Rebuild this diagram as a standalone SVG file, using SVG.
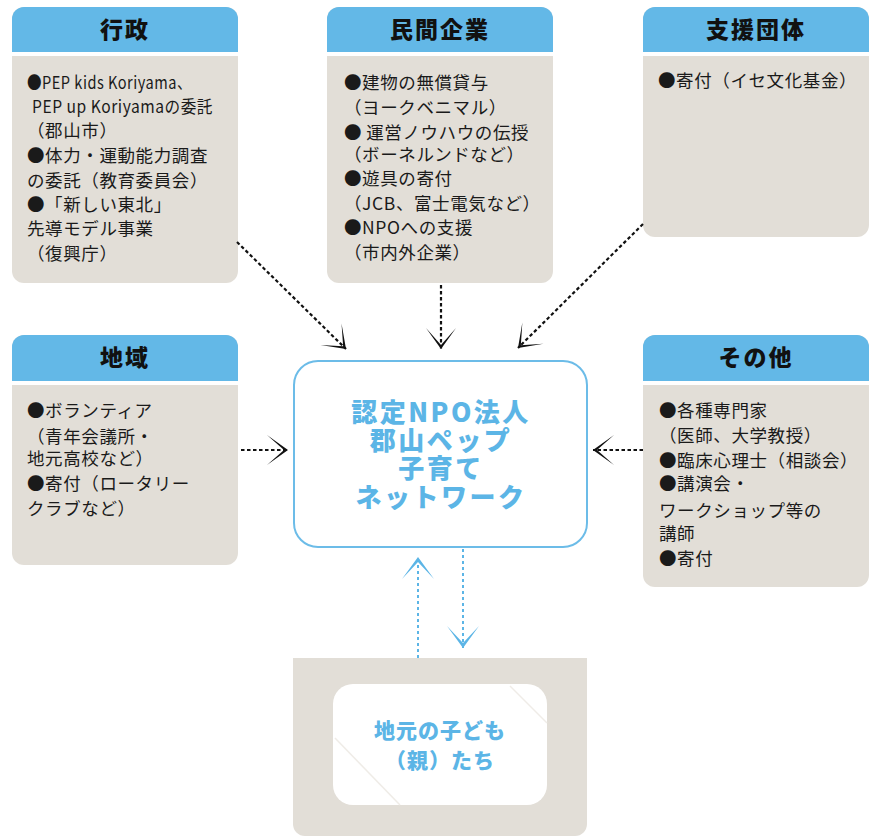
<svg xmlns="http://www.w3.org/2000/svg" width="875" height="837" viewBox="0 0 875 837">
<defs>
<style>
.body{fill:#e2ded7}
.head{fill:#63b8e7}
.sep{fill:#ffffff}
.ht{font-family:"Noto Sans CJK JP","Noto Sans",sans-serif;font-weight:900;font-size:23px;letter-spacing:2px;fill:#111;text-anchor:middle}
.t{font-family:"Noto Sans CJK JP","Noto Sans",sans-serif;font-size:17.5px;letter-spacing:0.6px;fill:#1a1a1a}
.ct{font-family:"Noto Sans CJK JP","Noto Sans",sans-serif;font-weight:900;font-size:26px;letter-spacing:2.5px;fill:#5cb5e6;text-anchor:middle}
.bt{font-family:"Noto Sans CJK JP","Noto Sans",sans-serif;font-weight:900;font-size:21px;letter-spacing:1px;fill:#5cb5e6;text-anchor:middle}
.blk{fill:none;stroke:#111;stroke-width:2.2;stroke-dasharray:3.5 2.5}
.blu{fill:none;stroke:#5cb5e6;stroke-width:2;stroke-dasharray:3 3}
</style>
<marker id="ah" markerUnits="userSpaceOnUse" markerWidth="30" markerHeight="36" viewBox="-24 -18 30 36" refX="0" refY="0" orient="auto">
<polygon points="-21,-15 0,0 -21,15 -4,0" fill="#111"/>
</marker>
<marker id="ahb" markerUnits="userSpaceOnUse" markerWidth="30" markerHeight="36" viewBox="-24 -18 30 36" refX="0" refY="0" orient="auto">
<polygon points="-22,-16 0,0 -22,16 -5,0" fill="#5cb5e6"/>
</marker>
</defs>
<rect width="875" height="837" fill="#ffffff"/>

<g id="gyosei">
<rect class="body" x="12" y="7" width="226" height="276" rx="12"/>
<path class="head" d="M12,52 V19 A12,12 0 0 1 24,7 H226 A12,12 0 0 1 238,19 V52 Z"/>
<rect class="sep" x="12" y="52" width="226" height="4"/>
<text class="ht" x="125" y="38">行政</text>
<text class="t" x="27" y="89" textLength="165" lengthAdjust="spacingAndGlyphs">●PEP kids Koriyama、</text>
<text class="t" x="32" y="113" textLength="181" lengthAdjust="spacingAndGlyphs">PEP up Koriyamaの委託</text>
<text class="t" x="27" y="137">（郡山市）</text>
<text class="t" x="27" y="162">●体力・運動能力調査</text>
<text class="t" x="27" y="187">の委託（教育委員会）</text>
<text class="t" x="27" y="211">●「新しい東北」</text>
<text class="t" x="27" y="235">先導モデル事業</text>
<text class="t" x="27" y="260">（復興庁）</text>
</g>

<g id="minkan">
<rect class="body" x="327" y="7" width="226" height="276" rx="12"/>
<path class="head" d="M327,52 V19 A12,12 0 0 1 339,7 H541 A12,12 0 0 1 553,19 V52 Z"/>
<rect class="sep" x="327" y="52" width="226" height="4"/>
<text class="ht" x="440" y="38">民間企業</text>
<text class="t" x="344" y="89">●建物の無償貸与</text>
<text class="t" x="344" y="114">（ヨークベニマル）</text>
<text class="t" x="344" y="139">●&#8201;運営ノウハウの伝授</text>
<text class="t" x="344" y="161">（ボーネルンドなど）</text>
<text class="t" x="344" y="185">●遊具の寄付</text>
<text class="t" x="344" y="210">（JCB、富士電気など）</text>
<text class="t" x="344" y="234">●NPOへの支援</text>
<text class="t" x="344" y="259">（市内外企業）</text>
</g>

<g id="shien">
<rect class="body" x="643" y="7" width="226" height="230" rx="12"/>
<path class="head" d="M643,52 V19 A12,12 0 0 1 655,7 H857 A12,12 0 0 1 869,19 V52 Z"/>
<rect class="sep" x="643" y="52" width="226" height="4"/>
<text class="ht" x="756" y="38">支援団体</text>
<text class="t" x="658" y="87">●寄付（イセ文化基金）</text>
</g>

<g id="chiiki">
<rect class="body" x="12" y="335" width="226" height="230" rx="12"/>
<path class="head" d="M12,381 V347 A12,12 0 0 1 24,335 H226 A12,12 0 0 1 238,347 V381 Z"/>
<rect class="sep" x="12" y="381" width="226" height="4"/>
<text class="ht" x="125" y="366">地域</text>
<text class="t" x="27" y="417">●ボランティア</text>
<text class="t" x="27" y="443">（青年会議所・</text>
<text class="t" x="27" y="465">地元高校など）</text>
<text class="t" x="27" y="490">●寄付（ロータリー</text>
<text class="t" x="27" y="515">クラブなど）</text>
</g>

<g id="sonota">
<rect class="body" x="643" y="335" width="226" height="252" rx="12"/>
<path class="head" d="M643,381 V347 A12,12 0 0 1 655,335 H857 A12,12 0 0 1 869,347 V381 Z"/>
<rect class="sep" x="643" y="381" width="226" height="4"/>
<text class="ht" x="756" y="366">その他</text>
<text class="t" x="659" y="417">●各種専門家</text>
<text class="t" x="659" y="442">（医師、大学教授）</text>
<text class="t" x="659" y="467">●臨床心理士（相談会）</text>
<text class="t" x="659" y="490">●講演会・</text>
<text class="t" x="659" y="517">ワークショップ等の</text>
<text class="t" x="659" y="540">講師</text>
<text class="t" x="659" y="565">●寄付</text>
</g>

<g id="center">
<rect x="294" y="361" width="293" height="186" rx="24" fill="#ffffff" stroke="#6cbce8" stroke-width="2"/>
<text class="ct" x="441" y="422">認定NPO法人</text>
<text class="ct" x="441" y="450">郡山ペップ</text>
<text class="ct" x="441" y="478">子育て</text>
<text class="ct" x="441" y="507">ネットワーク</text>
</g>

<g id="children">
<path class="body" d="M293,658 H587 V824 A12,12 0 0 1 575,836 H305 A12,12 0 0 1 293,824 Z"/>
<rect x="333" y="684" width="214" height="121" rx="20" fill="#ffffff"/>
<line x1="510" y1="686" x2="547" y2="723" stroke="#efece7" stroke-width="1.5"/>
<line x1="335" y1="738" x2="400" y2="805" stroke="#efece7" stroke-width="1.5"/>
<text class="bt" x="440" y="738">地元の子ども</text>
<text class="bt" x="440" y="768">（親）たち</text>
</g>

<g id="connectors">
<line class="blk" x1="237" y1="242" x2="346" y2="349" marker-end="url(#ah)"/>
<line class="blk" x1="441" y1="285" x2="441" y2="349" marker-end="url(#ah)"/>
<line class="blk" x1="643" y1="224" x2="518" y2="348" marker-end="url(#ah)"/>
<line class="blk" x1="241" y1="450" x2="288" y2="450" marker-end="url(#ah)"/>
<line class="blk" x1="643" y1="450" x2="593" y2="450" marker-end="url(#ah)"/>
<line class="blu" x1="418" y1="658" x2="418" y2="557" marker-end="url(#ahb)"/>
<line class="blu" x1="463" y1="549" x2="463" y2="648" marker-end="url(#ahb)"/>
</g>
</svg>
